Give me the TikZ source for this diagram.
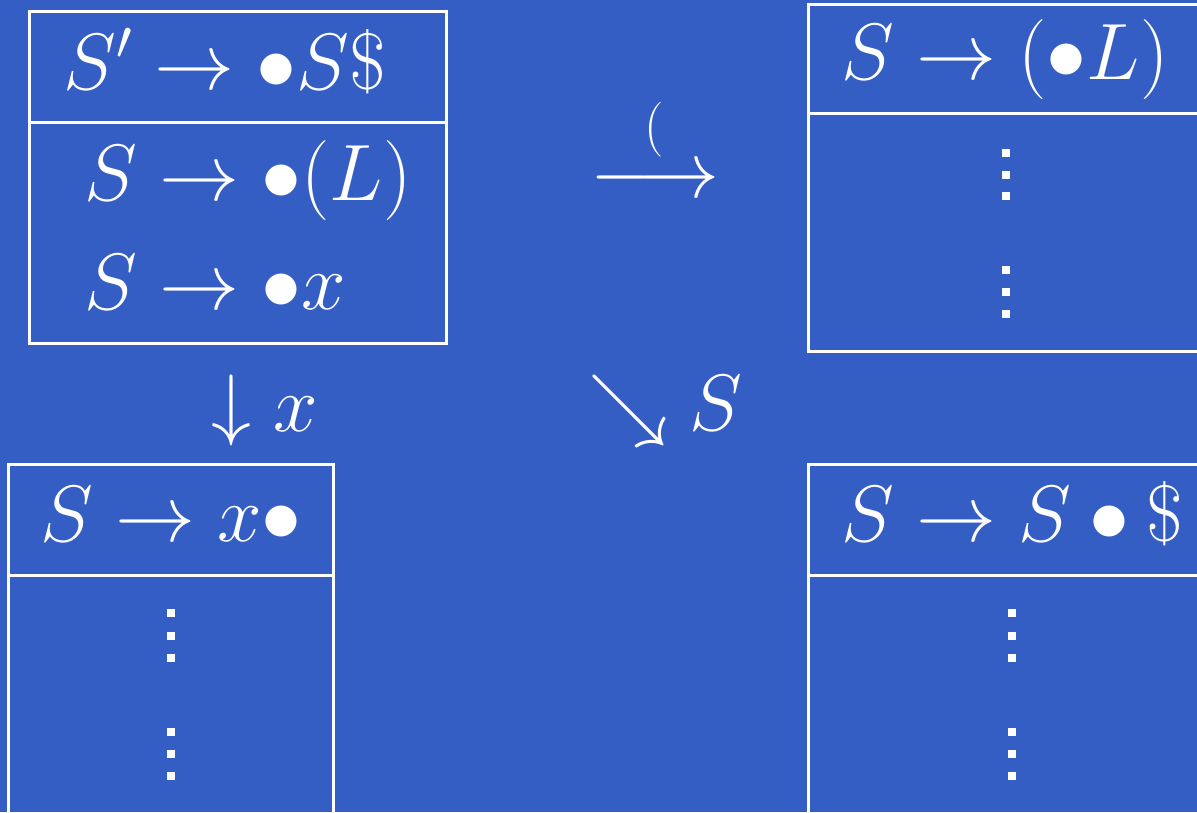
\documentclass[tikz,border=0pt]{standalone}
\usepackage{fix-cm}
\definecolor{bg}{RGB}{52,94,196}
\begin{document}
\begin{tikzpicture}[x=1pt,y=-1pt,
  box/.style={draw=white,line width=3pt,inner sep=0pt,outer sep=0pt,anchor=north west},
  rule/.style={draw=white,line width=3pt},
  txt/.style={text=white,inner sep=0pt,font=\fontsize{80}{96}\selectfont,anchor=base west},
  lbl/.style={text=white,inner sep=0pt,font=\fontsize{80}{96}\selectfont},
  sml/.style={text=white,inner sep=0pt,font=\fontsize{55}{66}\selectfont},
  dot/.style={fill=white}]
\fill[bg] (0,0) rectangle (1197,812);
\useasboundingbox (0,0) rectangle (1197,812);
\clip (0,0) rectangle (1197,812);
% state I0
\node[box,minimum width=417pt,minimum height=332pt] (I0) at (29,11) {};
\draw[rule] (I0.west |- 0,122) -- (I0.east |- 0,122);
\node[txt] (r1) at (63,89) {$S'\rightarrow\bullet S\$$};
\node[txt] (r2) at (84,200) {$S\rightarrow\bullet(L)$};
\node[txt] (r3) at (84,309) {$S\rightarrow\bullet x$};
% state after (
\node[box,minimum width=420pt,minimum height=347pt] (I1) at (808,4) {};
\draw[rule] (I1.west |- 0,113) -- (I1.east |- 0,113);
\node[txt] (r4) at (841,79) {$S\rightarrow(\bullet L)$};
% state after x
\node[box,minimum width=325pt,minimum height=400pt] (I2) at (8,464) {};
\draw[rule] (I2.west |- 0,575) -- (I2.east |- 0,575);
\node[txt] (r5) at (40,541) {$S\rightarrow x\bullet$};
% state after S
\node[box,minimum width=420pt,minimum height=400pt] (I3) at (808,464) {};
\draw[rule] (I3.west |- 0,575) -- (I3.east |- 0,575);
\node[txt] (r6) at (841,541) {$S\rightarrow S\bullet\$$};
% vertical dots
\foreach \cx/\ys in {1005.5/{153,175,196,270,292,314},170.5/{613,636,658,732,754,776},1012/{613,636,658,732,754,776}}{
  \foreach \cy in \ys {\fill[dot] (\cx-4,\cy-4) rectangle (\cx+4,\cy+4);}
}
% transitions
\node[lbl,anchor=base,text height=0.42em,text depth=0pt] (t1) at (655,197) {$\longrightarrow$};
\node[sml] (l1) at (654,130) {$($};
\node[lbl] (t2) at (231,410.5) {$\downarrow$};
\node[txt] (l2) at (273,431) {$x$};
\node[lbl] (t3) at (628,410.5) {$\searrow$};
\node[txt] (l3) at (689,430) {$S$};
\end{tikzpicture}
\end{document}
